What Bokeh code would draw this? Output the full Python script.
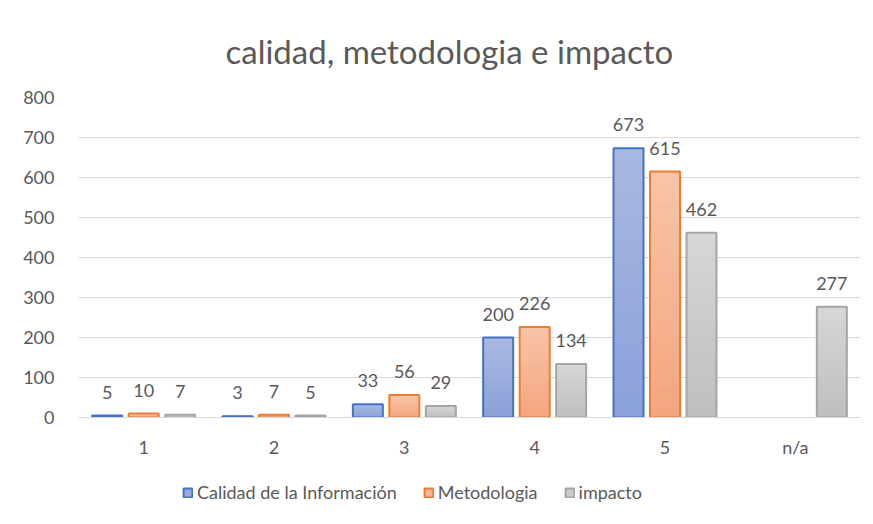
from bokeh.plotting import figure
from bokeh.layouts import column
from bokeh.models import (ColumnDataSource, FactorRange, LabelSet, Legend, LegendItem, SingleIntervalTicker,
                          Title, BoxAnnotation)
from bokeh.core.properties import value
from bokeh.transform import dodge
from bokeh.embed import file_html
from bokeh.resources import INLINE
import numpy as np

categories = ["1", "2", "3", "4", "5", "n/a"]
calidad = [5, 3, 33, 200, 673, np.nan]
metodologia = [10, 7, 56, 226, 615, np.nan]
impacto = [7, 5, 29, 134, 462, 277]
series_names = ["Calidad de la Información", "Metodologia", "impacto"]

FONT = "Lato"
TXT = "#595959"

def lbl(vals):
    return ["" if (v != v) else str(int(v)) for v in vals]

def clean(vals):
    return [0 if v != v else v for v in vals]

data = {"cal": calidad, "met": metodologia, "imp": impacto}

src = ColumnDataSource(dict(
    cat=categories,
    cal=calidad, met=metodologia, imp=impacto,
    cal_l=lbl(calidad), met_l=lbl(metodologia), imp_l=lbl(impacto),
    cal_y=clean(calidad), met_y=clean(metodologia), imp_y=clean(impacto),
))

p = figure(x_range=FactorRange(*categories), y_range=(0, 800),
           width=865, height=460, output_backend="svg", toolbar_location=None,
           min_border_left=78, min_border_right=5, min_border_top=97, min_border_bottom=43)
p.title = None
t = Title(text="calidad, metodologia e impacto", align="left", offset=147, text_font=FONT,
          text_font_size="33px", text_font_style="normal", text_color=TXT, standoff=53)
p.add_layout(t, "above")

# legend-only figure placed under the chart (its proxy bars are hidden)
lf = figure(x_range=FactorRange(*categories), y_range=(-2, -1),
            width=865, height=56, output_backend="svg", toolbar_location=None,
            x_axis_location=None, y_axis_location=None,
            min_border_left=0, min_border_right=0, min_border_top=0, min_border_bottom=0)
lf.xgrid.grid_line_color = None
lf.ygrid.grid_line_color = None
lf.outline_line_color = None

off = 0.28
w = 0.23
NS = 24
specs = [
    ("cal", -off, (0xA9, 0xB8, 0xE1), (0x8A, 0xA1, 0xD9), "#4472c4"),
    ("met", 0.0, (0xF8, 0xC4, 0xA7), (0xF4, 0xA5, 0x7E), "#ed7d31"),
    ("imp", off, (0xD6, 0xD6, 0xD6), (0xBF, 0xBF, 0xBF), "#a5a5a5"),
]
legend_items = []
for key, o, ctop, cbot, lc in specs:
    vals = clean(data[key])
    # gradient: slices computed from the data values
    xs, bots, tops, cols = [], [], [], []
    for c, v in zip(categories, vals):
        if v <= 0:
            continue
        for k in range(NS):
            f = (k + 0.5) / NS
            col = tuple(int(round(cb + (ct - cb) * f)) for cb, ct in zip(cbot, ctop))
            xs.append(c)
            bots.append(v * k / NS)
            tops.append(v * (k + 1) / NS)
            cols.append("#%02x%02x%02x" % col)
    gsrc = ColumnDataSource(dict(cat=xs, bottom=bots, top=tops, color=cols))
    p.vbar(x=dodge("cat", o, range=p.x_range), bottom="bottom", top="top", width=w, source=gsrc,
           fill_color="color", line_color="color", line_width=1)
    p.vbar(x=dodge("cat", o, range=p.x_range), top=key, width=w, source=src,
           fill_color=None, line_color=lc, line_width=2)
    mid = "#%02x%02x%02x" % tuple((a + b) // 2 for a, b in zip(ctop, cbot))
    rp = lf.vbar(x=dodge("cat", o, range=lf.x_range), top=key, width=w, source=src,
                 fill_color=mid, line_color=lc, line_width=2, visible=False)
    legend_items.append(rp)
    ls = LabelSet(x=dodge("cat", o, range=p.x_range), y=key + "_y", text=key + "_l", source=src,
                  text_align="center", text_baseline="bottom", y_offset=17,
                  text_font=value(FONT), text_font_size="18px", text_color=TXT)
    p.add_layout(ls)

# white cover over the legend figure's frame
lf.add_layout(BoxAnnotation(fill_color="white", fill_alpha=1.0, line_color=None))

p.yaxis.ticker = SingleIntervalTicker(interval=100)
p.yaxis.axis_line_color = None
p.yaxis.major_tick_line_color = None
p.yaxis.minor_tick_line_color = None
p.yaxis.major_label_text_font = FONT
p.yaxis.major_label_text_font_size = "18px"
p.yaxis.major_label_text_color = TXT
p.yaxis.major_label_standoff = 18

p.xaxis.axis_line_color = "#d9d9d9"
p.xaxis.axis_line_width = 1
p.xaxis.major_tick_line_color = None
p.xaxis.minor_tick_line_color = None
p.xaxis.major_label_text_font = FONT
p.xaxis.major_label_text_font_size = "18px"
p.xaxis.major_label_text_color = TXT
p.xaxis.major_label_standoff = 12

p.xgrid.grid_line_color = None
p.ygrid.grid_line_color = "#d9d9d9"
p.ygrid.grid_line_width = 1
p.outline_line_color = None
p.x_range.range_padding = 0
p.x_range.group_padding = 0

legend = Legend(items=[LegendItem(label=n, renderers=[r]) for n, r in zip(series_names, legend_items)],
                orientation="horizontal", location=(104, 13),
                label_text_font=FONT, label_text_font_size="18px", label_text_color=TXT,
                glyph_width=11, glyph_height=11, spacing=26, label_standoff=4,
                inactive_fill_alpha=0.0,
                border_line_color=None, background_fill_alpha=0, margin=0, padding=0)
lf.add_layout(legend, "center")

layout = column(p, lf, spacing=0)
open("out.html", "w").write(file_html(layout, INLINE))
